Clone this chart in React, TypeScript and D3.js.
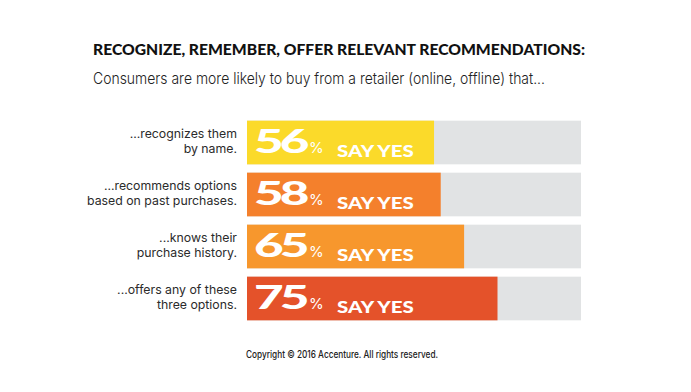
import React from "react";
import * as d3 from "d3";

const categories: string[][] = [
  ["...recognizes them", "by name."],
  ["...recommends options", "based on past purchases."],
  ["...knows their", "purchase history."],
  ["...offers any of these", "three options."],
];
const values: number[] = [56, 58, 65, 75];
const barColors: string[] = ["#FBDA2A", "#F4802C", "#F7972D", "#E4522A"];
const title = "RECOGNIZE, REMEMBER, OFFER RELEVANT RECOMMENDATIONS:";
const subtitle = "Consumers are more likely to buy from a retailer (online, offline) that...";
const footer = "Copyright \u00A9 2016 Accenture. All rights reserved.";

export default function App() {
  const W = 691, H = 392;
  const x = d3.scaleLinear().domain([0, 100]).range([247, 581]);
  const y = d3.scaleBand<number>().domain(d3.range(values.length)).range([116.5, 324.5]).paddingInner(0.16).paddingOuter(0.08);
  const font = "Inter, 'Noto Sans', sans-serif";
  const heavy = "Lato, 'DejaVu Sans', sans-serif";
  return (
    <svg width={W} height={H} style={{ position: "absolute", left: 0, top: 0, background: "#fff" }} fontFamily={font}>
      <rect width={W} height={H} fill="#fff" />
      <text x={93} y={54.5} fontSize={15.5} fontFamily={heavy} fontWeight={900} fill="#111" textLength={492} lengthAdjust="spacingAndGlyphs">{title}</text>
      <text x={93} y={84} fontSize={15.5} fontWeight={300} fill="#222" textLength={452} lengthAdjust="spacingAndGlyphs">{subtitle}</text>
      {values.map((v, i) => {
        const top = y(i)!;
        const h = y.bandwidth();
        const bottom = top + h;
        const c = top + h / 2;
        return (
          <g key={i}>
            <rect x={x(0)} y={top} width={x(100) - x(0)} height={h} fill="#E1E3E4" />
            <rect x={x(0)} y={top} width={x(v) - x(0)} height={h} fill={barColors[i]} />
            <text x={237} y={c - 4.5} fontSize={12.3} fill="#2b2b2b" textAnchor="end">{categories[i][0]}</text>
            <text x={237} y={c + 10} fontSize={12.3} fill="#2b2b2b" textAnchor="end">{categories[i][1]}</text>
            <g transform={`translate(${x(0) + 7},${bottom - 11}) scale(1.6,1)`}>
              <text x={0} y={0} fontSize={32} fontFamily={heavy} fontWeight={900} fill="#fff" letterSpacing={-2.5}>{String(v)}</text>
            </g>
            <text x={x(0) + 62} y={bottom - 11} fontSize={15} fontWeight={400} fill="#fff">%</text>
            <g transform={`translate(${x(0) + 90},${bottom - 7}) scale(1.28,1)`}>
              <text x={0} y={0} fontSize={16} fontFamily={heavy} fontWeight={900} fill="#fff">SAY YES</text>
            </g>
          </g>
        );
      })}
      <text x={246} y={358} fontSize={10} fontWeight={500} fill="#222" textLength={192} lengthAdjust="spacingAndGlyphs">{footer}</text>
    </svg>
  );
}
